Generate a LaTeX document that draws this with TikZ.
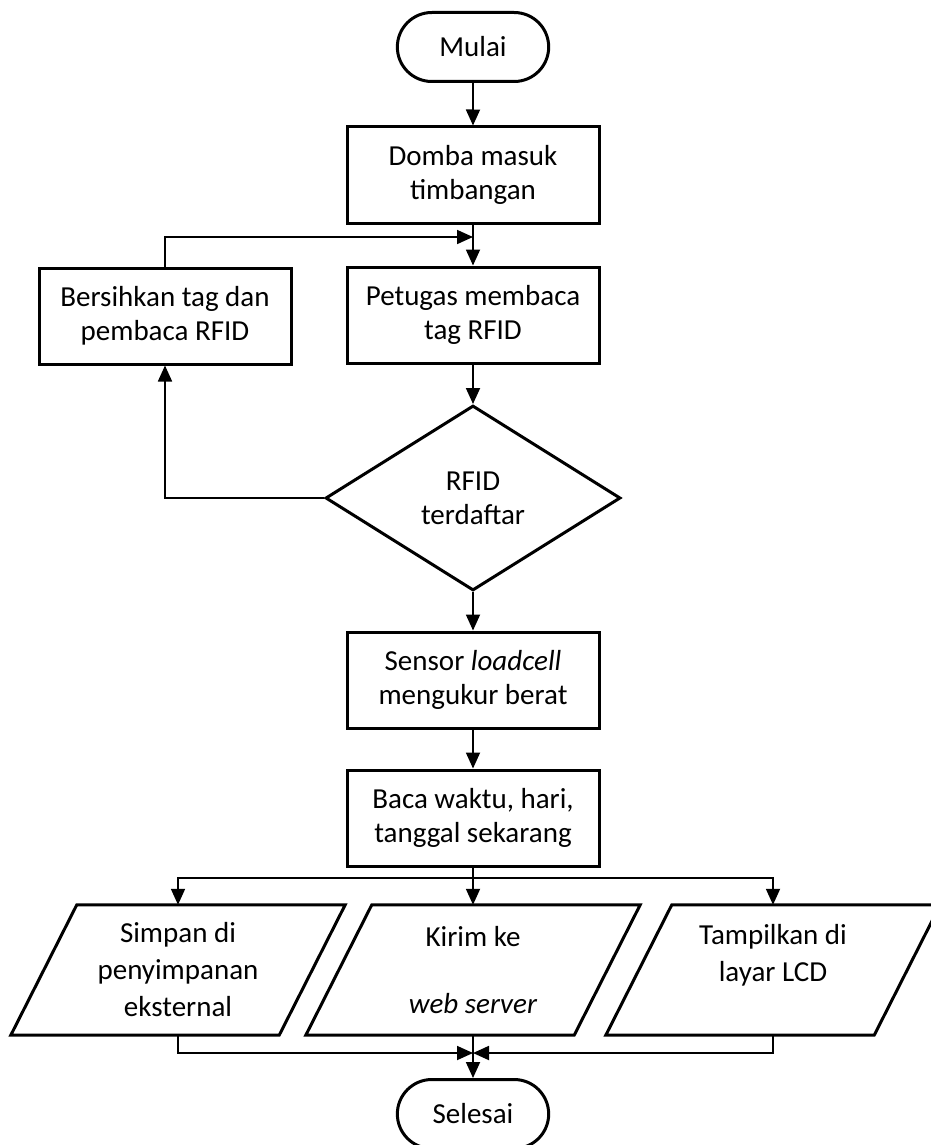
\documentclass[tikz,border=0pt]{standalone}
\usepackage{fontspec}
\setmainfont{Carlito}
\usetikzlibrary{shapes,arrows.meta,positioning,calc}

\tikzset{
  proses/.style={rectangle, draw, line width=3pt, minimum width=252pt, minimum height=96pt, align=center},
  terminal/.style={rounded rectangle, draw, line width=3pt, minimum width=158pt, minimum height=69pt},
  keputusan/.style={diamond, draw, line width=3pt, minimum width=295pt, minimum height=185pt, inner sep=0pt, align=center},
  data/.style={rectangle, minimum width=334pt, minimum height=130pt, inner sep=0pt, align=center,
    font=\fontsize{29}{37}\selectfont},
  miring/.style={line width=3pt, line join=miter},
  panah/.style={-{Triangle[length=16pt,width=14pt]}, line width=1.8pt}
}

\begin{document}
\begin{tikzpicture}[x=1pt, y=-1pt, font=\fontsize{29}{34}\selectfont]
\useasboundingbox (0,0) rectangle (930,1145);

\node[terminal] (mulai) at (473,47) {Mulai};
\node[proses] (domba) at (473,175) {Domba masuk\\timbangan};
\node[proses] (petugas) at (473,315) {Petugas membaca\\tag RFID};
\node[proses] (bersih) at (165,316) {Bersihkan tag dan\\pembaca RFID};
\node[keputusan] (cek) at (473,498) {RFID\\terdaftar};
\node[proses] (sensor) at (473,680) {Sensor \textit{loadcell}\\mengukur berat};
\node[proses] (baca) at (473,818) {Baca waktu, hari,\\tanggal sekarang};
\node[data] (simpan) at (178,970) {Simpan di\\penyimpanan\\eksternal};
\node[data] (kirim) at (473,970) {Kirim ke\\[30pt]\textit{web server}};
\node[data] (tampil) at (773,970) {Tampilkan di\\layar LCD\\[-14pt]\strut};
\node[terminal] (selesai) at (473,1114) {Selesai};

% jajaran genjang untuk input/output
\foreach \n in {simpan,kirim,tampil}
  \draw[miring] ([xshift=66pt]\n.north west) -- (\n.north east)
    -- ([xshift=-66pt]\n.south east) -- (\n.south west) -- cycle;

\coordinate (gabung) at (473,237);
\coordinate (cabang) at (473,878);
\coordinate (akhir) at (473,1053);

\draw[panah] (mulai) -- (domba);
\draw[panah] (domba) -- (petugas);
\draw[panah] (bersih.north) |- (gabung);
\draw[panah] (petugas) -- (cek);
\draw[panah] (cek.west) -| (bersih.south);
\draw[panah] (cek) -- (sensor);
\draw[panah] (sensor) -- (baca);
\draw[panah] (baca.south) -- (kirim.north);
\draw[panah] (cabang) -| (simpan.north);
\draw[panah] (cabang) -| (tampil.north);
\draw[panah] (simpan.south) |- (akhir);
\draw[panah] (tampil.south) |- (akhir);
\draw[panah] (kirim.south) -- (selesai);
\end{tikzpicture}
\end{document}
